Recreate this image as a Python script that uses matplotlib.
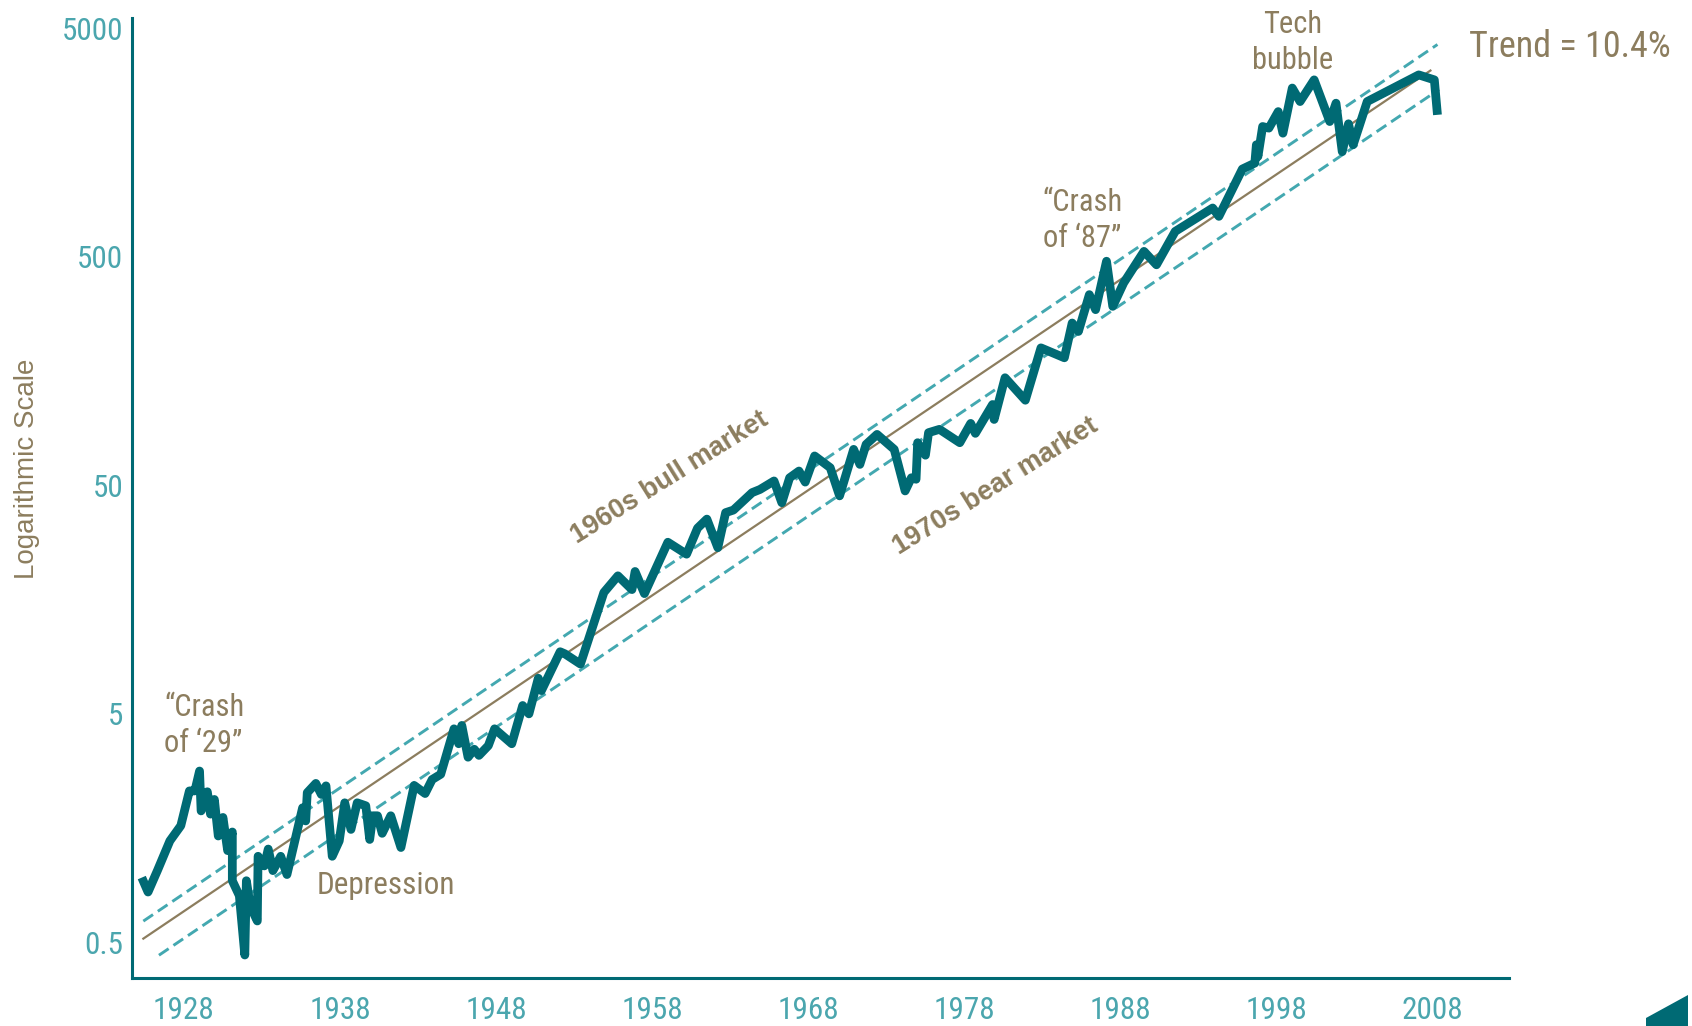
import numpy as np
import matplotlib
matplotlib.use("Agg")
import matplotlib.pyplot as plt
from matplotlib import font_manager
from matplotlib.font_manager import FontProperties
from matplotlib.patches import Polygon

# market index (log scale)
years = [1925.3, 1925.7, 1926.3, 1927.1, 1927.8, 1928.35, 1928.7, 1929.0, 1929.1, 1929.5,
         1929.7, 1929.95, 1930.2, 1930.5, 1930.8, 1931.1, 1931.1, 1931.55, 1931.9, 1932.0,
         1932.25, 1932.7, 1932.75, 1933.15, 1933.4, 1933.7, 1934.2, 1934.6, 1935.6, 1935.8,
         1935.9, 1936.45, 1936.8, 1937.1, 1937.5, 1937.95, 1938.3, 1938.7, 1939.1, 1939.65,
         1939.9, 1940.1, 1940.4, 1940.7, 1941.25, 1941.9, 1942.75, 1943.45, 1943.9, 1944.45,
         1945.3, 1945.6, 1945.8, 1946.2, 1946.6, 1946.9, 1947.5, 1947.9, 1949.0, 1949.7,
         1950.1, 1950.7, 1950.9, 1952.1, 1952.4, 1953.4, 1954.9, 1955.8, 1956.7, 1956.9,
         1957.5, 1959.0, 1960.2, 1960.9, 1961.5, 1962.2, 1962.7, 1963.2, 1964.4, 1964.9,
         1965.8, 1966.3, 1966.8, 1967.4, 1967.8, 1968.4, 1969.4, 1970.0, 1970.9, 1971.3,
         1971.7, 1972.4, 1973.5, 1974.2, 1974.6, 1974.9, 1975.0, 1975.5, 1975.7, 1976.4,
         1977.7, 1978.4, 1978.7, 1979.8, 1979.9, 1980.6, 1981.9, 1982.9, 1984.4, 1984.9,
         1985.3, 1986.0, 1986.4, 1987.1, 1987.5, 1988.2, 1989.5, 1990.3, 1991.5, 1993.9,
         1994.3, 1995.8, 1996.6, 1996.7, 1996.8, 1997.1, 1997.5, 1998.1, 1998.4, 1999.0,
         1999.5, 2000.4, 2001.4, 2001.8, 2002.2, 2002.6, 2002.9, 2003.8, 2007.1, 2008.1,
         2008.3]
values = [0.96, 0.83, 1.03, 1.39, 1.62, 2.30, 2.30, 2.81, 1.88, 2.28,
          1.82, 2.11, 1.46, 1.76, 1.26, 1.52, 0.93, 0.80, 0.44, 0.93,
          0.72, 0.62, 1.19, 1.08, 1.28, 1.03, 1.19, 0.99, 1.94, 1.70,
          2.26, 2.48, 2.22, 2.42, 1.19, 1.39, 2.04, 1.56, 2.04, 1.98,
          1.41, 1.79, 1.79, 1.50, 1.79, 1.30, 2.43, 2.24, 2.58, 2.72,
          4.30, 3.70, 4.45, 3.23, 3.50, 3.29, 3.63, 4.30, 3.70, 5.44,
          5.00, 7.16, 6.32, 9.35, 9.16, 8.26, 17.0, 20.1, 17.5, 21.0,
          16.8, 28.2, 25.0, 32.5, 35.6, 26.7, 38.0, 39.0, 46.5, 48.0,
          52.3, 42.0, 54.0, 57.8, 51.7, 67.3, 59.8, 45.0, 71.9, 61.8,
          75.6, 83.6, 71.9, 47.3, 54.0, 53.2, 76.9, 67.8, 85.1, 88.0,
          76.9, 93.4, 84.5, 113, 97.2, 148, 118, 200, 181, 257,
          236, 342, 294, 479, 304, 385, 529, 462, 647, 819,
          753, 1213, 1288, 1549, 1376, 1862, 1832, 2164, 1741, 2744,
          2395, 2980, 1958, 2356, 1445, 1914, 1549, 2395, 3133, 2980,
          2095]

# trend line and its band (start / end points)
trend_x = [1925.4, 2007.85]
trend_y = [0.519, 3273]
upper_x = [1925.4, 2008.3]
upper_y = [0.619, 4256]
lower_x = [1926.4, 2008.4]
lower_y = [0.439, 2704]

ytick_vals = [0.5, 5, 50, 500, 5000]
ytick_labels = ["0.5", "5", "50", "500", "5000"]
xtick_vals = [1928, 1938, 1948, 1958, 1968, 1978, 1988, 1998, 2008]

DARK = "#006A74"
LIGHT = "#43A8B0"
TAN = "#8C7D5E"
TICK = "#4BA6AE"

REGULAR = (400, "normal", "regular", "book")


def narrow_font():
    fl = font_manager.fontManager.ttflist
    for name in ["Liberation Sans Narrow", "Roboto Condensed", "Noto Sans Condensed",
                 "Open Sans Condensed", "Noto Sans SemiCondensed"]:
        for f in fl:
            if f.name == name and f.style == "normal" and f.weight in REGULAR:
                return FontProperties(fname=f.fname)
    for name in ["Roboto", "Noto Sans", "Open Sans"]:
        for f in fl:
            if f.name == name and f.stretch in ("condensed", "semi-condensed") \
                    and f.style == "normal" and f.weight in REGULAR:
                return FontProperties(fname=f.fname)
    for f in fl:
        if f.name == "DejaVu Sans" and f.stretch == "condensed" and f.style == "normal" \
                and f.weight in REGULAR:
            return FontProperties(fname=f.fname)
    return FontProperties(family="Liberation Sans")


nf = narrow_font()


def fp(size):
    p = nf.copy()
    p.set_size(size)
    return p


fig = plt.figure(figsize=(16.92, 10.26), dpi=100)
ax = fig.add_axes([0.0778, 0.0468, 0.8142, 0.9352])

ax.plot(trend_x, trend_y, color=TAN, lw=1.6, zorder=2)
ax.plot(upper_x, upper_y, color=LIGHT, lw=2.1, dashes=(4, 2), zorder=2)
ax.plot(lower_x, lower_y, color=LIGHT, lw=2.1, dashes=(4, 2), zorder=2)
ax.plot(years, values, color=DARK, lw=6.3, solid_joinstyle="round", solid_capstyle="butt", zorder=3)

ax.set_yscale("log")
ax.set_ylim(0.349, 5533)
ax.set_xlim(1924.65, 2012.9)

ax.set_yticks(ytick_vals)
ax.set_yticklabels(ytick_labels)
ax.yaxis.set_minor_locator(matplotlib.ticker.NullLocator())
ax.set_xticks(xtick_vals)
ax.set_xticklabels([str(v) for v in xtick_vals])
for lab in ax.get_xticklabels() + ax.get_yticklabels():
    lab.set_fontproperties(fp(22.5))
    lab.set_color(TICK)
ax.tick_params(axis="both", length=0)
ax.tick_params(axis="y", pad=6)
ax.tick_params(axis="x", pad=13)

for s in ["top", "right"]:
    ax.spines[s].set_visible(False)
for s in ["left", "bottom"]:
    ax.spines[s].set_color(DARK)
    ax.spines[s].set_linewidth(2.2)

# annotations
ax.text(1926.75, 4.45, "\u201cCrash\nof \u201829\u201d", fontproperties=fp(22), color=TAN,
        ha="left", va="center", linespacing=1.3)
ax.text(1936.5, 0.887, "Depression", fontproperties=fp(22.5), color=TAN, ha="left", va="center")
ax.text(1983.0, 720, "\u201cCrash\nof \u201887\u201d", fontproperties=fp(22), color=TAN,
        ha="left", va="center", linespacing=1.3)
ax.text(1999.05, 4350, "Tech\nbubble", fontproperties=fp(22), color=TAN,
        ha="center", va="center", linespacing=1.3)
ax.text(2010.3, 4130, "Trend = 10.4%", fontproperties=fp(26), color=TAN, ha="left", va="center")
ax.text(1959.1, 54.2, "1960s bull market", family="Liberation Sans", fontweight="bold",
        fontsize=19.5, color=TAN, rotation=32, ha="center", va="center", rotation_mode="anchor")
ax.text(1980.0, 49.5, "1970s bear market", family="Liberation Sans", fontweight="bold",
        fontsize=19.5, color=TAN, rotation=32, ha="center", va="center", rotation_mode="anchor")

fig.text(0.016, 0.543, "Logarithmic Scale", family="Liberation Sans", fontsize=20,
         color=TAN, rotation=90, ha="center", va="center")

# corner decoration
W, H = 1692, 1026
corner = [(1646, 1026), (1646, 1018), (1688, 995), (1688, 1026)]
fig.patches.append(Polygon([(x / W, 1 - y / H) for x, y in corner], closed=True,
                           transform=fig.transFigure, facecolor=DARK, edgecolor="none"))

fig.savefig("out.png", dpi=100)
